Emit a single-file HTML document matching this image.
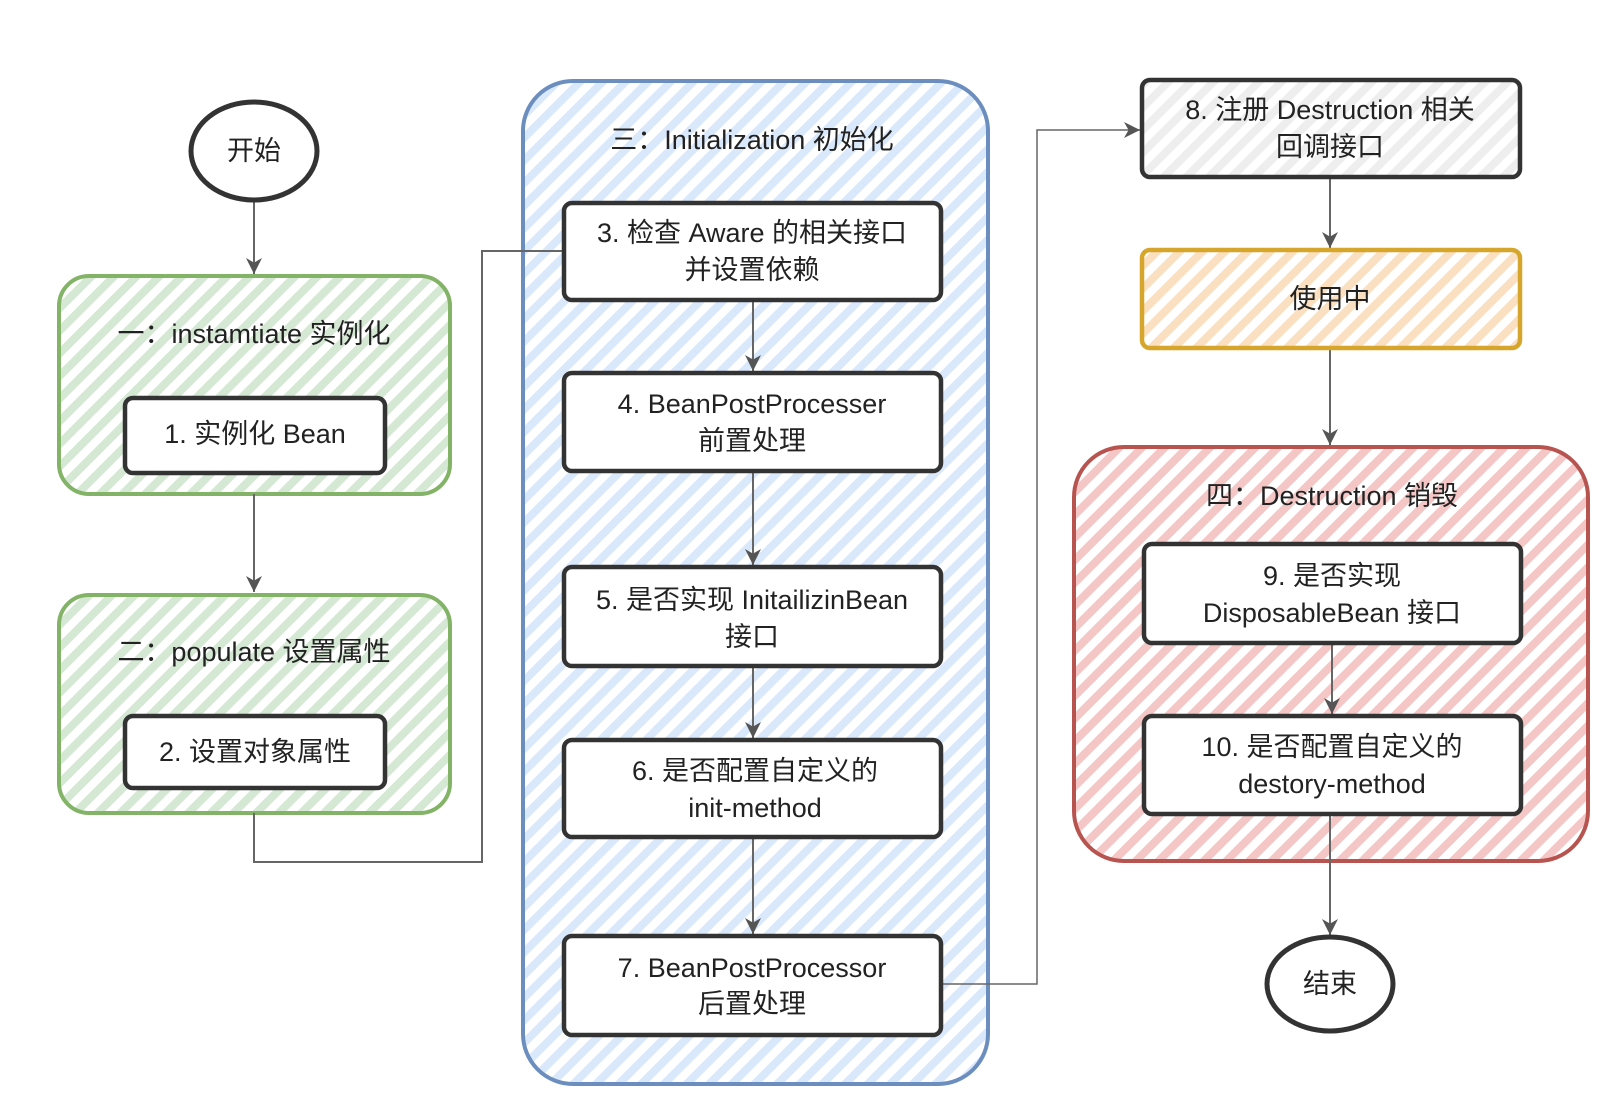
<!DOCTYPE html>
<html><head><meta charset="utf-8"><style>
html,body{margin:0;padding:0;background:#fff;}
svg{display:block}
text{font-family:"Liberation Sans","Noto Sans CJK SC",sans-serif;font-size:27px;fill:#222;text-anchor:middle;dominant-baseline:central}
</style></head><body>
<svg width="1624" height="1120" viewBox="0 0 1624 1120" xmlns="http://www.w3.org/2000/svg">
<defs>
<pattern id="hg" width="16" height="16" patternUnits="userSpaceOnUse" patternTransform="rotate(45)"><rect width="8" height="16" fill="#d5e8d4"/></pattern>
<pattern id="hb" width="16" height="16" patternUnits="userSpaceOnUse" patternTransform="rotate(45)"><rect width="8" height="16" fill="#dae8fc"/></pattern>
<pattern id="hr" width="16" height="16" patternUnits="userSpaceOnUse" patternTransform="rotate(45)"><rect width="8" height="16" fill="#f4c7c6"/></pattern>
<pattern id="ho" width="16" height="16" patternUnits="userSpaceOnUse" patternTransform="rotate(45)"><rect width="8" height="16" fill="#fae0c0"/></pattern>
<pattern id="hw" width="16" height="16" patternUnits="userSpaceOnUse" patternTransform="rotate(45)"><rect width="8" height="16" fill="#eeeeee"/></pattern>
<marker id="ar" markerWidth="16" markerHeight="16" refX="14" refY="7" orient="auto" markerUnits="userSpaceOnUse" viewBox="0 0 14 14"><path d="M0,0 L14,7 L0,14 L4,7 Z" fill="#555"/></marker>
</defs>
<!-- groups -->
<rect x="59" y="276" width="391" height="218" rx="30" fill="url(#hg)" stroke="#82b366" stroke-width="4"/>
<rect x="59" y="595" width="391" height="218" rx="30" fill="url(#hg)" stroke="#82b366" stroke-width="4"/>
<rect x="523" y="81" width="465" height="1003" rx="50" fill="url(#hb)" stroke="#6c8ebf" stroke-width="4"/>
<rect x="1074" y="447" width="514" height="414" rx="50" fill="url(#hr)" stroke="#b85450" stroke-width="4"/>
<text x="254" y="334">一：instamtiate 实例化</text>
<text x="254" y="652">二：populate 设置属性</text>
<text x="752" y="140">三：Initialization 初始化</text>
<text x="1332" y="496">四：Destruction 销毁</text>
<g fill="none" stroke="#666" stroke-width="2">
<path d="M254,200 V274" marker-end="url(#ar)"/>
<path d="M254,494 V592" marker-end="url(#ar)"/>
<path d="M254,813 V862 H482 V251 H562"/>
<path d="M753,300 V371" marker-end="url(#ar)"/>
<path d="M753,471 V565" marker-end="url(#ar)"/>
<path d="M753,666 V738" marker-end="url(#ar)"/>
<path d="M753,837 V934" marker-end="url(#ar)"/>
<path d="M941,984 H1037 V130 H1140" marker-end="url(#ar)" stroke-width="1.5"/>
<path d="M1330,177 V248" marker-end="url(#ar)"/>
<path d="M1330,348 V445" marker-end="url(#ar)"/>
<path d="M1332,643 V714" marker-end="url(#ar)"/>
<path d="M1330,814 V935" marker-end="url(#ar)"/>
</g>
<!-- circles -->
<ellipse cx="254" cy="151" rx="63" ry="49" fill="#fff" stroke="#333" stroke-width="5"/>
<text x="254" y="151">开始</text>
<ellipse cx="1330" cy="984" rx="63" ry="47" fill="#fff" stroke="#333" stroke-width="5"/>
<text x="1330" y="984">结束</text>
<!-- boxes -->
<g stroke="#333" stroke-width="4.5" fill="#fff">
<rect x="125" y="398" width="260" height="75" rx="8"/>
<rect x="125" y="716" width="260" height="72" rx="8"/>
<rect x="564" y="203" width="377" height="97" rx="8"/>
<rect x="564" y="373" width="377" height="98" rx="8"/>
<rect x="564" y="567" width="377" height="99" rx="8"/>
<rect x="564" y="740" width="377" height="97" rx="8"/>
<rect x="564" y="936" width="377" height="99" rx="8"/>
<rect x="1142" y="80" width="378" height="97" rx="8" fill="url(#hw)"/>
<rect x="1142" y="250" width="378" height="98" rx="8" fill="url(#ho)" stroke="#d6a62c"/>
<rect x="1144" y="544" width="377" height="99" rx="8"/>
<rect x="1144" y="716" width="377" height="98" rx="8"/>
</g>
<text x="255" y="434">1. 实例化 Bean</text>
<text x="255" y="752">2. 设置对象属性</text>
<text x="752" y="233">3. 检查 Aware 的相关接口</text>
<text x="752" y="270">并设置依赖</text>
<text x="752" y="404">4. BeanPostProcesser</text>
<text x="752" y="441">前置处理</text>
<text x="752" y="600">5. 是否实现 InitailizinBean</text>
<text x="752" y="637">接口</text>
<text x="755" y="771">6. 是否配置自定义的</text>
<text x="755" y="808">init-method</text>
<text x="752" y="968">7. BeanPostProcessor</text>
<text x="752" y="1004">后置处理</text>
<text x="1330" y="110">8. 注册 Destruction 相关</text>
<text x="1330" y="147">回调接口</text>
<text x="1330" y="299">使用中</text>
<text x="1332" y="576">9. 是否实现</text>
<text x="1332" y="613">DisposableBean 接口</text>
<text x="1332" y="747">10. 是否配置自定义的</text>
<text x="1332" y="784">destory-method</text>
</svg>
</body></html>
